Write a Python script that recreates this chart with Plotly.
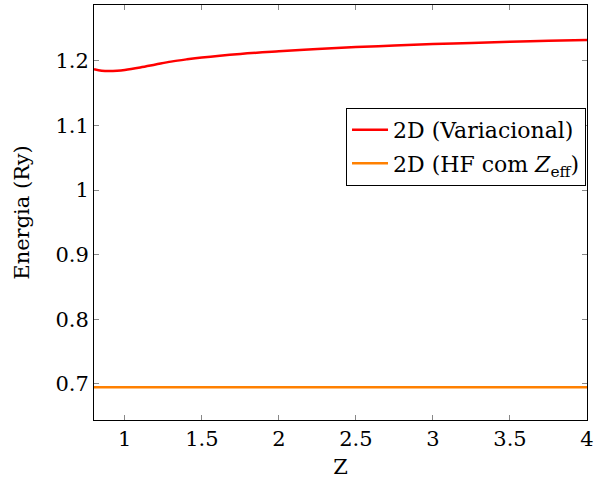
import plotly.graph_objects as go

z_vals = [0.8, 0.85, 0.9, 0.95, 1.0, 1.1, 1.2, 1.3, 1.4, 1.5, 1.75, 2.0, 2.25, 2.5, 2.75, 3.0, 3.25, 3.5, 3.75, 4.0]
e_variacional = [1.1872, 1.1850, 1.1845, 1.1850, 1.1862, 1.1900, 1.1945, 1.1990, 1.2025, 1.2055, 1.2110, 1.2150, 1.2185, 1.2215, 1.2240, 1.2262, 1.2280, 1.2297, 1.2312, 1.2325]
hf_z = [0.8, 4.0]
e_hf = [0.6947, 0.6947]

x_ticks = [1, 1.5, 2, 2.5, 3, 3.5, 4]
x_labels = ["1", "1.5", "2", "2.5", "3", "3.5", "4"]
y_ticks = [0.7, 0.8, 0.9, 1.0, 1.1, 1.2]
y_labels = ["0.7", "0.8", "0.9", "1", "1.1", "1.2"]

FONT = "DejaVu Serif"
FS = 21

fig = go.Figure()
fig.add_trace(go.Scatter(x=z_vals, y=e_variacional, mode="lines", line=dict(color="#ff0000", width=2.5, shape="spline"),
                         name="2D (Variacional)", legendgroup="a"))
fig.add_trace(go.Scatter(x=hf_z, y=e_hf, mode="lines", line=dict(color="#ff8000", width=2.5),
                         name="2D (HF com <i>Z</i><sub>eff</sub>)", legendgroup="b"))

axis_common = dict(showgrid=False, zeroline=False, showline=True, linecolor="black", linewidth=1,
                   mirror="allticks", ticks="inside", ticklen=5, tickcolor="#888888", automargin=False,
                   ticklabeloverflow="allow",
                   tickfont=dict(family=FONT, size=FS, color="black"))

fig.update_layout(
    width=595, height=482,
    margin=dict(l=94, r=8, t=5, b=62),
    plot_bgcolor="white", paper_bgcolor="white",
    font=dict(family=FONT, size=FS, color="black"),
    xaxis=dict(range=[0.8, 4.0], tickvals=x_ticks, ticktext=x_labels,
               title=dict(text="Z", font=dict(family=FONT, size=FS), standoff=9), **axis_common),
    yaxis=dict(range=[0.644, 1.2867], tickvals=y_ticks, ticktext=y_labels,
               title=dict(text="Energia (Ry)", font=dict(family=FONT, size=FS), standoff=20), **axis_common),
    legend=dict(x=0.998, y=0.752, xanchor="right", yanchor="top", bgcolor="white",
                bordercolor="black", borderwidth=1, font=dict(family=FONT, size=22),
                tracegroupgap=2, itemwidth=36),
    showlegend=True,
)

fig.write_html("out.html")
